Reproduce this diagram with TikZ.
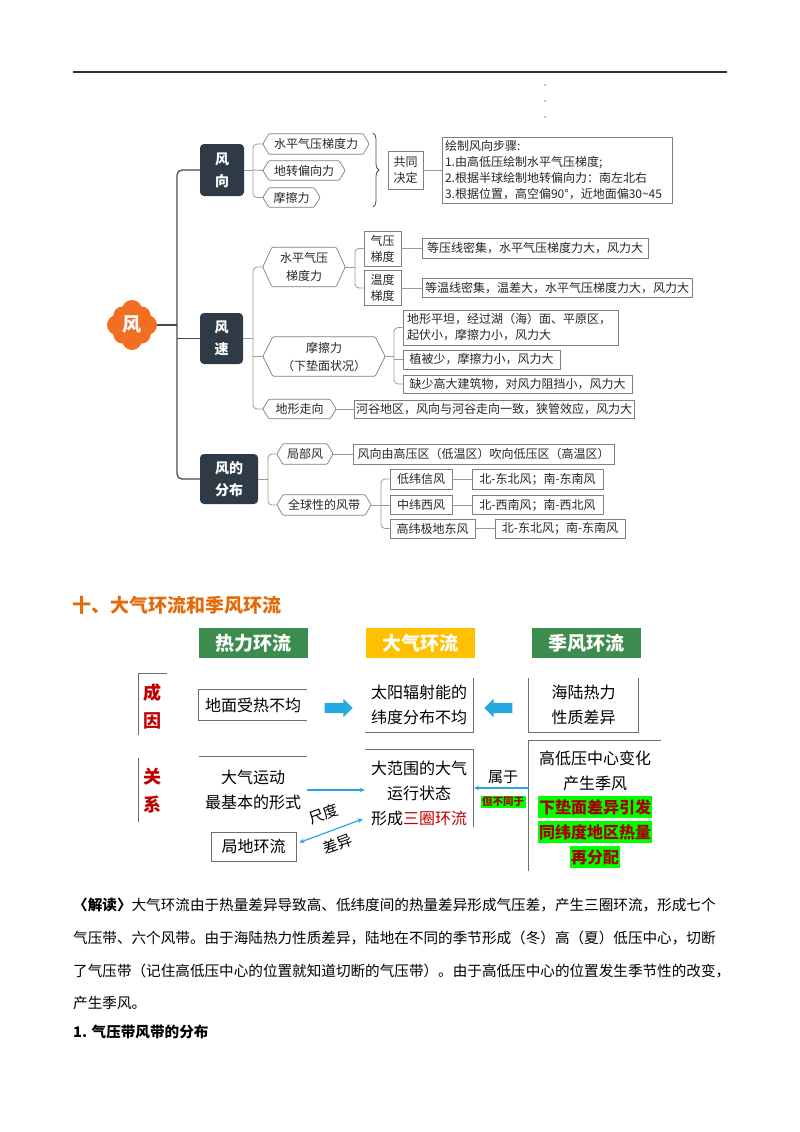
\documentclass[tikz,border=0pt]{standalone}
\usepackage{fontspec}
\setmainfont{Noto Sans CJK SC}
\usetikzlibrary{arrows.meta,shapes.arrows,decorations.pathreplacing}
\definecolor{darkbox}{HTML}{2E3A45}
\definecolor{rootor}{HTML}{F26E22}
\definecolor{boxgray}{HTML}{7F7F7F}
\definecolor{linegray}{HTML}{9A9A9A}
\definecolor{trunkc}{HTML}{4A4A4A}
\definecolor{hgreen}{HTML}{3C8C50}
\definecolor{hyellow}{HTML}{FFC000}
\definecolor{titleor}{HTML}{E36C0A}
\definecolor{redtxt}{HTML}{C00000}
\definecolor{arrowblue}{HTML}{25A9E0}
\definecolor{brightgreen}{HTML}{00FF00}
\definecolor{hltxt}{HTML}{A80000}
\definecolor{framegray}{HTML}{6E6E6E}
\newcommand\fsz[1]{\fontsize{#1}{#1}\selectfont}
\newcommand\tagshape[2]{\draw[tagline] (#1.north west) -- (#1.north east) -- ([xshift=#2]#1.east) -- (#1.south east) -- (#1.south west) -- ([xshift=-#2]#1.west) -- cycle;}
\tikzset{
 mmtext/.style={font=\fsz{12}, text=black!85},
 mbox/.style={mmtext, draw=boxgray, line width=0.7pt, inner sep=0pt, align=center},
 tagn/.style={mmtext, inner sep=0pt, align=center},
 darkn/.style={fill=darkbox, rounded corners=4pt, text=white, font=\bfseries\fontsize{14}{22}\selectfont, align=center, inner sep=0pt},
 branch/.style={draw=linegray, line width=0.8pt, rounded corners=4pt},
 trunk/.style={draw=trunkc, line width=1.3pt, rounded corners=5pt},
 tagline/.style={draw=boxgray, line width=0.7pt, rounded corners=1pt},
 hdr/.style={text=white, font=\bfseries\fsz{19}, minimum width=109, minimum height=30, inner sep=0pt},
 ltext/.style={font=\fontsize{16}{25}\selectfont, align=center, inner sep=0pt, text=black},
 framel/.style={draw=framegray, line width=0.8pt},
 thinarrow/.style={draw=arrowblue, line width=1.2pt, -{Stealth[length=5pt,width=4.5pt]}},
 blockarrow/.style={single arrow, fill=arrowblue, minimum height=28, single arrow head extend=4pt, inner xsep=0pt, inner ysep=0pt},
 hlline/.style={fill=brightgreen, text=hltxt, font=\bfseries\fsz{16}, inner xsep=1pt, inner ysep=3pt},
 plain16/.style={font=\fsz{16}, inner sep=0pt, text=black},
 para/.style={anchor=west, font=\fsz{14.6}, inner sep=0pt, text=black},
}
\begin{document}
\begin{tikzpicture}[x=1pt,y=-1pt]
\fill[white] (0,0) rectangle (800,1132);
\useasboundingbox (0,0) rectangle (800,1132);
% top rule and dots
\draw[black!80, line width=1.8pt] (73,72) -- (727,72);
\foreach \yy in {85,101,117} \fill[black!45] (545,\yy) circle (0.8pt);

% ---------- mind map ----------
\fill[rootor] (132,325) circle (18pt);
\foreach \a in {0,90,180,270} \fill[rootor] (132,325) ++(\a:15pt) circle (10pt);
\foreach \a in {45,135,225,315} \fill[rootor] (132,325) ++(\a:13pt) circle (9.5pt);
\node[circle, minimum size=50, inner sep=0pt, text=white, font=\bfseries\fsz{19}] (root) at (132,325) {风};

\node[darkn, minimum width=44, minimum height=52] (fx) at (222,170) {风\\向};
\node[darkn, minimum width=43, minimum height=51] (fs) at (221.5,338.5) {风\\速};
\node[darkn, minimum width=58, minimum height=50] (ffb) at (229,479) {风的\\分布};

\coordinate (tr) at (177,325);
\draw[trunk] (fx.west) -| (tr) |- (ffb.west);
\draw[trunk] (root.east) -- (tr);
\draw[trunk] (tr |- fs.west) -- (fs.west);

% 风向
\node[tagn, minimum width=94, minimum height=20] (t1) at (316,144) {水平气压梯度力};
\node[tagn, minimum width=70, minimum height=19] (t2) at (304,170.5) {地转偏向力};
\node[tagn, minimum width=45, minimum height=19] (t3) at (291.5,197.5) {摩擦力};
\tagshape{t1}{6}\tagshape{t2}{6}\tagshape{t3}{6}
\coordinate (b1) at (253,170);
\draw[branch] ([xshift=-6]t1.west) -| (b1) |- ([xshift=-6]t3.west);
\draw[branch] (fx.east) -- (b1);
\draw[branch] (b1) -- ([xshift=-6]t2.west);
\draw[decorate, decoration={brace, amplitude=6pt}, draw=black!70, line width=0.8pt] (373,133) -- (373,207);
\node[mbox, minimum width=35, minimum height=38, font=\fontsize{12}{16}\selectfont] (gt) at (405.5,170) {共同\\决定};
\node[mbox, text width=224, inner xsep=3pt, minimum height=66, align=left, font=\fontsize{12}{16}\selectfont] (steps) at (557,170) {绘制风向步骤:\\1.由高低压绘制水平气压梯度;\\2.根据半球绘制地转偏向力：南左北右\\3.根据位置，高空偏90°，近地面偏30\textasciitilde45};
\draw[branch] (gt.east) -- (steps.west);

% 风速
\node[tagn, minimum width=64, minimum height=39, font=\fontsize{12}{18}\selectfont] (s1) at (304,267) {水平气压\\梯度力};
\node[tagn, minimum width=102, minimum height=39, font=\fontsize{12}{18}\selectfont] (s2) at (324,356.5) {摩擦力\\（下垫面状况）};
\node[tagn, minimum width=61, minimum height=19] (s3) at (299.5,409) {地形走向};
\tagshape{s1}{9}\tagshape{s2}{10}\tagshape{s3}{6}
\coordinate (b2) at (253,338.5);
\draw[branch] ([xshift=-9]s1.west) -| (b2) |- ([xshift=-6]s3.west);
\draw[branch] (fs.east) -- (b2);
\draw[branch] (b2 |- s2.west) -- ([xshift=-10]s2.west);

\node[mbox, minimum width=37, minimum height=35, font=\fontsize{12}{16}\selectfont] (qy) at (382.5,248.5) {气压\\梯度};
\node[mbox, minimum width=37, minimum height=35, font=\fontsize{12}{16}\selectfont] (wd) at (382.5,288) {温度\\梯度};
\coordinate (b3) at (355,267);
\draw[branch] (qy.west) -| (b3) |- (wd.west);
\draw[branch] ([xshift=9]s1.east) -- (b3);
\node[mbox, minimum width=226, minimum height=20] (dy1) at (535,248.5) {等压线密集，水平气压梯度力大，风力大};
\node[mbox, minimum width=270, minimum height=19] (dy2) at (557,288) {等温线密集，温差大，水平气压梯度力大，风力大};
\draw[branch] (qy.east) -- (dy1.west);
\draw[branch] (wd.east) -- (dy2.west);

\node[mbox, text width=207, inner xsep=4pt, minimum height=35, align=left, font=\fontsize{12}{16}\selectfont] (mc1) at (510.5,327.5) {地形平坦，经过湖（海）面、平原区，\\起伏小，摩擦力小，风力大};
\node[mbox, minimum width=157, minimum height=19] (mc2) at (481.5,359.5) {植被少，摩擦力小，风力大};
\node[mbox, minimum width=229, minimum height=18] (mc3) at (517.5,384) {缺少高大建筑物，对风力阻挡小，风力大};
\coordinate (b4) at (394,356.5);
\draw[branch] (mc1.west) -| (b4) |- (mc3.west);
\draw[branch] ([xshift=10]s2.east) -- (b4);
\draw[branch] (b4 |- mc2.west) -- (mc2.west);
\node[mbox, minimum width=280, minimum height=18] (hg) at (494,409) {河谷地区，风向与河谷走向一致，狭管效应，风力大};
\draw[branch] ([xshift=6]s3.east) -- (hg.west);

% 风的分布
\node[tagn, minimum width=44, minimum height=20] (d1) at (305,454) {局部风};
\node[tagn, minimum width=82, minimum height=20] (d2) at (324,505) {全球性的风带};
\tagshape{d1}{6}\tagshape{d2}{6}
\coordinate (b5) at (268,479);
\draw[branch] ([xshift=-6]d1.west) -| (b5) |- ([xshift=-6]d2.west);
\draw[branch] (ffb.east) -- (b5);
\node[mbox, minimum width=261, minimum height=20] (jb) at (483.5,454) {风向由高压区（低温区）吹向低压区（高温区）};
\draw[branch] ([xshift=6]d1.east) -- (jb.west);
\node[mbox, minimum width=62, minimum height=20] (w1) at (421,479) {低纬信风};
\node[mbox, minimum width=62, minimum height=19] (w2) at (421,505) {中纬西风};
\node[mbox, minimum width=85, minimum height=19] (w3) at (432.5,528.5) {高纬极地东风};
\coordinate (b6) at (381,505);
\draw[branch] (w1.west) -| (b6) |- (w3.west);
\draw[branch] ([xshift=6]d2.east) -- (w2.west);
\node[mbox, minimum width=131, minimum height=20] (e1) at (537.5,479) {北-东北风；南-东南风};
\node[mbox, minimum width=131, minimum height=19] (e2) at (537.5,505) {北-西南风；南-西北风};
\node[mbox, minimum width=130, minimum height=19] (e3) at (560,528.5) {北-东北风；南-东南风};
\draw[branch] (w1.east) -- (e1.west);
\draw[branch] (w2.east) -- (e2.west);
\draw[branch] (w3.east) -- (e3.west);

% ---------- 大气环流 ----------
\node[anchor=west, text=titleor, font=\bfseries\fsz{19}, inner sep=0pt] (title) at (72,605) {十、大气环流和季风环流};
\node[hdr, fill=hgreen] (h1) at (253.5,643) {热力环流};
\node[hdr, fill=hyellow] (h2) at (420,643) {大气环流};
\node[hdr, fill=hgreen] (h3) at (586.5,643) {季风环流};

\coordinate (cy1) at (167,673);
\coordinate (cy2) at (138,735);
\draw[framel] (cy1) -| (cy2);
\node[text=redtxt, font=\bfseries\fsz{18}, inner sep=0pt] (cheng) at (152,693) {成};
\node[text=redtxt, font=\bfseries\fsz{18}, inner sep=0pt] (yin) at (152,721) {因};
\coordinate (gx1) at (138,758);
\coordinate (gx2) at (138,822);
\draw[framel] (gx1) -- (gx2);
\node[text=redtxt, font=\bfseries\fsz{18}, inner sep=0pt] (guan) at (152,777) {关};
\node[text=redtxt, font=\bfseries\fsz{18}, inner sep=0pt] (xi) at (152,805) {系};

\node[ltext, minimum width=108, minimum height=30] (dm) at (253,705) {地面受热不均};
\draw[framel] (dm.north east) -- (dm.north west) -- (dm.south west) -- (dm.south east);
\node[ltext, minimum width=108, minimum height=54] (ty) at (419,705) {太阳辐射能的\\纬度分布不均};
\draw[framel] (ty.north east) -- (ty.south east) -- (ty.south west);
\node[ltext, minimum width=109, minimum height=54] (hl) at (583.5,705) {海陆热力\\性质差异};
\draw[framel] (hl.north west) -- (hl.south west) -- (hl.south east) -- (hl.north east);
\node[blockarrow] (ba1) at (336,708) {\rule{0pt}{10pt}};
\node[blockarrow, shape border rotate=180] (ba2) at (501,708) {\rule{0pt}{10pt}};

\node[ltext, minimum width=108, minimum height=66] (dq) at (253,790) {大气运动\\最基本的形式};
\draw[framel] (dq.north west) -- (dq.north east);
\node[ltext, minimum width=108, minimum height=86] (dfw) at (419,793) {大范围的大气\\运行状态\\形成\textcolor{redtxt}{三圈环流}};
\draw[framel] (dfw.north west) -- (dfw.north east) -- ([yshift=9pt]dfw.south east);
\node[plain16, draw=framegray, line width=0.8pt, minimum width=85, minimum height=29] (ju) at (253.5,846.5) {局地环流};

\node[minimum width=132, minimum height=130, inner sep=0pt] (rb) at (595,806) {};
\draw[framel] (rb.north east) -- (rb.north west) -- (rb.south west);
\node[plain16] (r1) at (595,758) {高低压中心变化};
\node[plain16] (r2) at (595,783) {产生季风};
\node[hlline] (r3) at (595,807) {下垫面差异引发};
\node[hlline] (r4) at (595,832) {同纬度地区热量};
\node[hlline] (r5) at (595,857) {再分配};

\draw[thinarrow] (dq.east) -- (dq.east -| dfw.west);
\coordinate (su1) at (529,788);
\coordinate (su2) at (474,788);
\draw[thinarrow] (su1) -- (su2);
\node[font=\fsz{15}, inner sep=0pt] (shuyu) at (503,777) {属于};
\node[fill=brightgreen, text=hltxt, font=\bfseries\fsz{10.5}, inner sep=1.5pt] (bbt) at (503,802) {但不同于};
\draw[draw=arrowblue, line width=1.2pt, {Stealth[length=5pt,width=4.5pt]}-{Stealth[length=5pt,width=4.5pt]}] ([xshift=3pt,yshift=4pt]ju.east) -- ([xshift=-2pt,yshift=-26pt]dfw.west);
\node[font=\fsz{15}, inner sep=0pt, rotate=20] (cd) at (324,814) {尺度};
\node[font=\fsz{15}, inner sep=0pt, rotate=20] (cy) at (338,844) {差异};

% ---------- paragraph ----------
\node[para] (p1) at (73,905) {\textbf{〈解读〉}大气环流由于热量差异导致高、低纬度间的热量差异形成气压差，产生三圈环流，形成七个};
\node[para] (p2) at (73,938) {气压带、六个风带。由于海陆热力性质差异，陆地在不同的季节形成（冬）高（夏）低压中心，切断};
\node[para] (p3) at (73,971) {了气压带（记住高低压中心的位置就知道切断的气压带）。由于高低压中心的位置发生季节性的改变，};
\node[para] (p4) at (73,1003) {产生季风。};
\node[para, font=\bfseries\fsz{14.6}] (p5) at (73,1032) {1. 气压带风带的分布};
\end{tikzpicture}
\end{document}
